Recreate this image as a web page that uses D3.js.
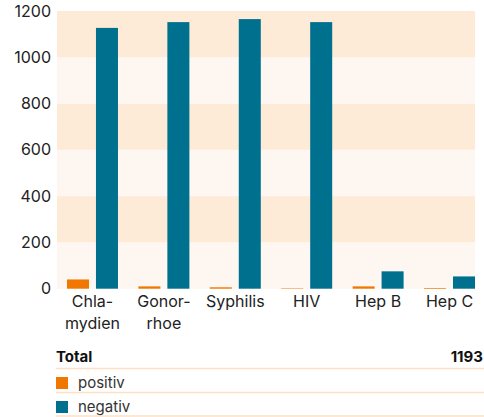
<!DOCTYPE html>
<html><head><meta charset="utf-8">
<script src="https://cdn.jsdelivr.net/npm/d3@7"></script>
<style>
body{margin:0;background:#fff;font-family:Inter,"Noto Sans",sans-serif;}
</style></head>
<body><svg id="c" width="484" height="417"></svg>
<script>
const categories = [["Chla-","mydien"],["Gonor-","rhoe"],["Syphilis"],["HIV"],["Hep B"],["Hep C"]];
const series = ["positiv","negativ"];
const positiv = [40, 10, 6, 2, 10, 3];
const negativ = [1127, 1152, 1165, 1152, 75, 53];
const yTicks = [0, 200, 400, 600, 800, 1000, 1200];
const total = 1193;
const colors = {positiv:"#f07800", negativ:"#00708f"};

const svg = d3.select("#c");
const names = categories.map(c => c.join(""));
const x0 = d3.scaleBand().domain(names).range([57, 485]).paddingInner(0.286).paddingOuter(0.14);
const x1 = d3.scaleBand().domain(series).range([0, x0.bandwidth()]).paddingInner(0.24);
const y = d3.scaleLinear().domain([0, 1200]).range([288.7, 11]);

// background bands
const bands = d3.range(0, 1200, 200);
svg.append("g").selectAll("rect").data(bands).join("rect")
  .attr("x", 57).attr("width", 475 - 57)
  .attr("y", d => y(d + 200)).attr("height", d => y(d) - y(d + 200))
  .attr("fill", (d, i) => i % 2 === 1 ? "#fdebd8" : "#fef6f0");

// bars
const data = names.map((n, i) => ({n, vals: [{k:"positiv", v:positiv[i]}, {k:"negativ", v:negativ[i]}]}));
svg.append("g").selectAll("g").data(data).join("g")
  .attr("transform", d => `translate(${x0(d.n)},0)`)
  .selectAll("rect").data(d => d.vals).join("rect")
  .attr("x", d => x1(d.k)).attr("width", x1.bandwidth())
  .attr("y", d => y(d.v)).attr("height", d => y(0) - y(d.v))
  .attr("fill", d => colors[d.k]);

// y axis
const yAxis = d3.axisLeft(y).tickValues(yTicks).tickFormat(d3.format("d")).tickSize(0).tickPadding(6);
const ya = svg.append("g").attr("transform", "translate(57,0)").call(yAxis);
ya.select(".domain").remove();
ya.selectAll("text").attr("font-family", "Inter, sans-serif").attr("font-size", 16).attr("fill", "#222");

// x axis labels
const xl = svg.append("g").selectAll("text").data(categories).join("text")
  .attr("x", (d, i) => x0(names[i]) + x0.bandwidth() / 2)
  .attr("y", 307).attr("text-anchor", "middle")
  .attr("font-size", 16).attr("fill", "#222");
xl.selectAll("tspan").data(d => d).join("tspan")
  .attr("x", function(){ return this.parentNode.getAttribute("x"); })
  .attr("dy", (d, i) => i === 0 ? 0 : 22).text(d => d);

// legend table
const lg = svg.append("g");
lg.append("text").attr("x", 56).attr("y", 362).attr("font-size", 15).attr("font-weight", 700).attr("fill", "#111").text("Total");
lg.append("text").attr("x", 483).attr("y", 362).attr("text-anchor", "end").attr("font-size", 15).attr("font-weight", 700).attr("fill", "#111").text(total);
const rowLines = [368.5, 392.5, 416];
lg.selectAll("line").data(rowLines).join("line")
  .attr("x1", 56).attr("x2", 484).attr("y1", d => d).attr("y2", d => d)
  .attr("stroke", "#fde0c4").attr("stroke-width", 1.5);
const rows = lg.selectAll("g.row").data(series).join("g").attr("class", "row")
  .attr("transform", (d, i) => `translate(56,${377 + i * 24})`);
rows.append("rect").attr("width", 12).attr("height", 12).attr("fill", d => colors[d]);
rows.append("text").attr("x", 22).attr("y", 10.5).attr("font-size", 15).attr("fill", "#333").text(d => d);
</script></body></html>
